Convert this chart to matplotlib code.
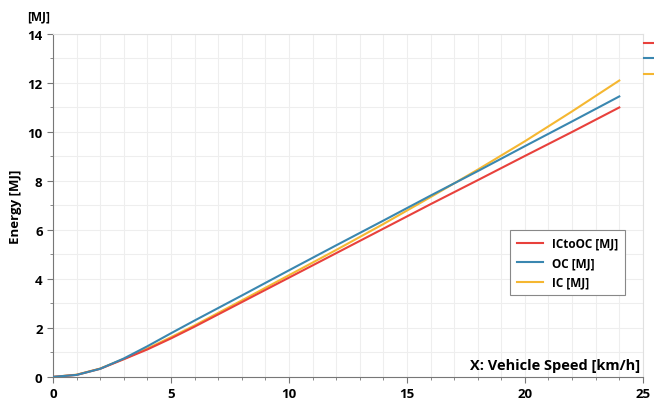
import matplotlib
matplotlib.use("Agg")
import matplotlib.pyplot as plt
from matplotlib.lines import Line2D
from matplotlib.ticker import MultipleLocator

plt.rcParams['font.family'] = ['Open Sans', 'DejaVu Sans']
plt.rcParams['font.weight'] = 'bold'

speed = [0, 1, 2, 3, 4, 5, 6, 8, 10, 12, 14, 16, 18, 20, 22, 24]
ictooc = [0, 0.08, 0.33, 0.72, 1.12, 1.57, 2.05, 3.05, 4.05, 5.05, 6.05, 7.05, 8.03, 9.02, 10.0, 11.0]
oc = [0, 0.08, 0.33, 0.75, 1.25, 1.78, 2.30, 3.32, 4.35, 5.37, 6.38, 7.40, 8.40, 9.42, 10.43, 11.45]
ic = [0, 0.09, 0.34, 0.73, 1.16, 1.62, 2.10, 3.12, 4.15, 5.18, 6.24, 7.34, 8.46, 9.62, 10.84, 12.1]

c_red = '#e8413c'
c_blue = '#3a87b0'
c_yel = '#f5b731'

fig = plt.figure(figsize=(6.54, 4.02), dpi=100)
ax = fig.add_axes([0.081, 0.06, 0.902, 0.853])

ax.plot(speed, ictooc, color=c_red, lw=1.5, label='ICtoOC [MJ]', zorder=3)
ax.plot(speed, oc, color=c_blue, lw=1.5, label='OC [MJ]', zorder=4)
ax.plot(speed, ic, color=c_yel, lw=1.5, label='IC [MJ]', zorder=2)

ax.set_xlim(0, 25)
ax.set_ylim(0, 14)
ax.xaxis.set_major_locator(MultipleLocator(5))
ax.xaxis.set_minor_locator(MultipleLocator(1))
ax.yaxis.set_major_locator(MultipleLocator(2))
ax.yaxis.set_minor_locator(MultipleLocator(1))
ax.grid(which='both', color='#eeeeee', lw=0.8)
ax.set_axisbelow(True)

for s in ['left', 'bottom']:
    ax.spines[s].set_color('#777777')
for s in ['top', 'right']:
    ax.spines[s].set_color('#e0e0e0')
ax.tick_params(which='major', length=4, color='#777777', labelsize=9.5)
ax.tick_params(which='minor', length=2.5, color='#777777')
ax.tick_params(top=False, right=False)

ax.set_ylabel('Energy [MJ]', fontsize=9.5, fontweight='bold', labelpad=4)
ax.text(0.995, 0.015, 'X: Vehicle Speed [km/h]', transform=ax.transAxes,
        ha='right', va='bottom', fontsize=10.5, fontweight='bold')
ax.text(-0.044, 1.035, '[MJ]', transform=ax.transAxes, ha='left', va='bottom',
        fontsize=8.5, fontweight='bold')

leg = ax.legend(loc='upper left', bbox_to_anchor=(0.765, 0.445), fontsize=8.5,
                fancybox=False, edgecolor='#888888', framealpha=1,
                handlelength=2.2, borderpad=0.55, labelspacing=0.55)
leg.get_frame().set_linewidth(0.8)

# clipped legend at the right edge
for yy, cc in [(0.89, c_red), (0.853, c_blue), (0.813, c_yel)]:
    fig.add_artist(Line2D([0.985, 1.0], [yy, yy], color=cc, lw=1.5))

fig.savefig('out.png', dpi=100)
